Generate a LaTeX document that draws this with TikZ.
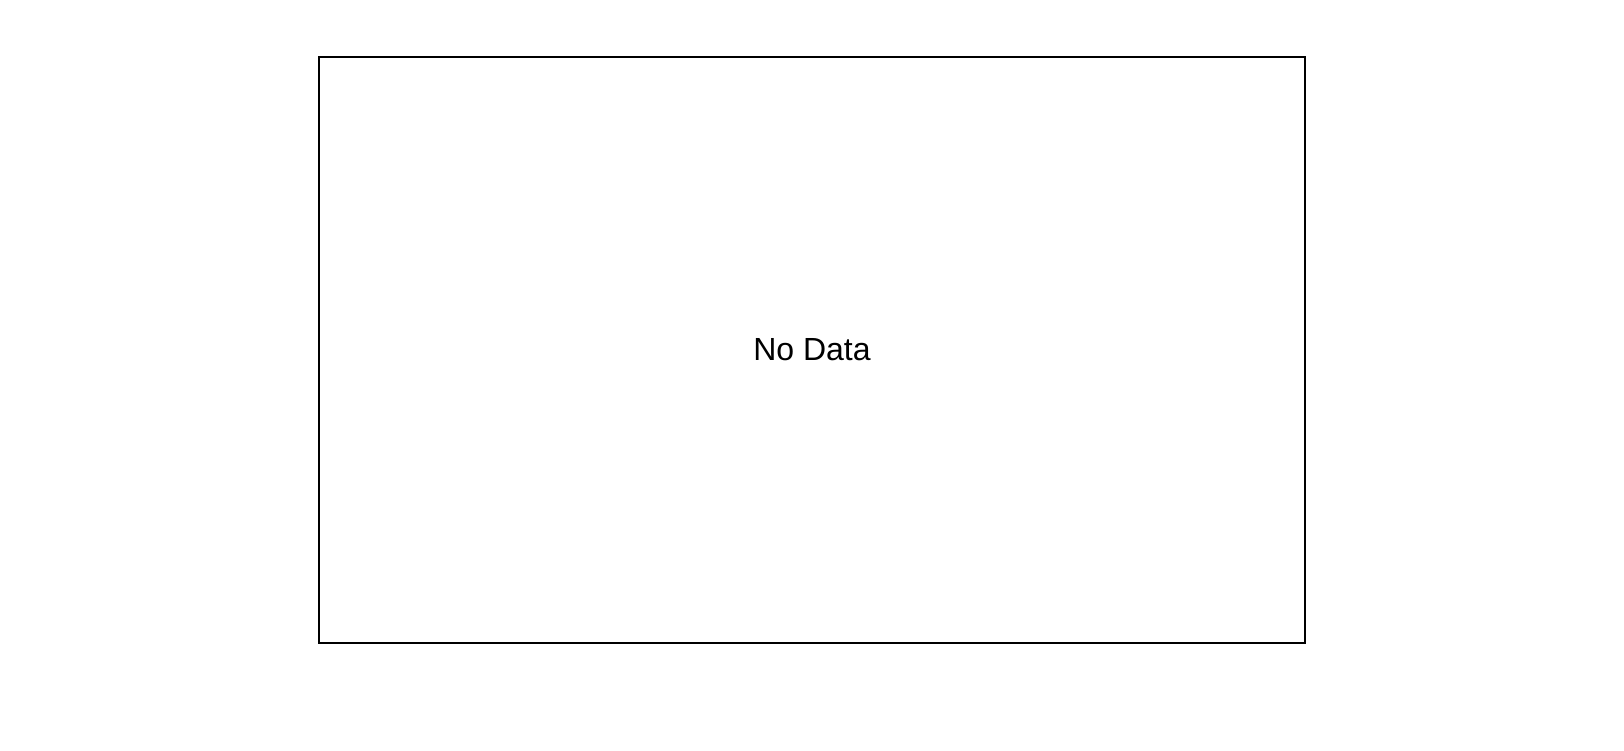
\documentclass[tikz,border=0pt]{standalone}
\usepackage{fontspec}
\setmainfont{Liberation Sans}
\usetikzlibrary{positioning}

\begin{document}
\begin{tikzpicture}[x=1pt,y=-1pt,frame/.style={draw,line width=2.2pt,minimum width=986pt,minimum height=586pt,inner sep=0pt}] 
                \useasboundingbox (0,0) rectangle (1624,750);
                \node[frame] (plot) at (812,350) {}; 
                \node[font=\fontsize{32}{38}\selectfont] (nodata) at (plot.center) {No Data};
             \end{tikzpicture}
\end{document}
